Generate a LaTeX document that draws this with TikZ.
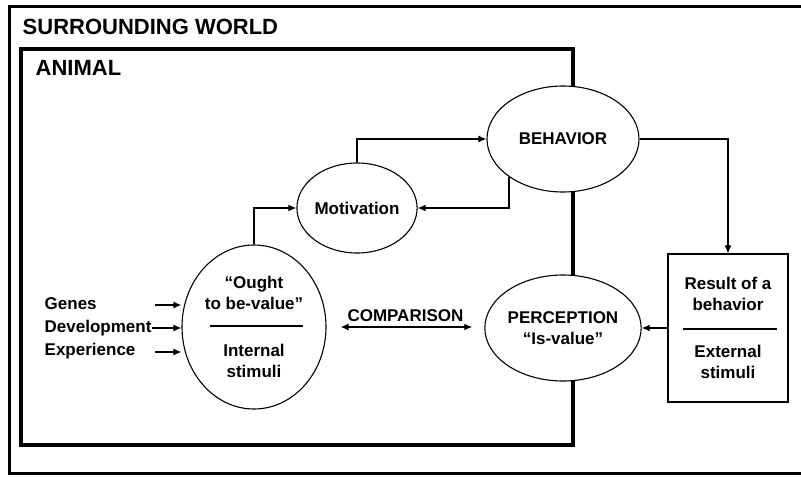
\documentclass[tikz,border=0pt]{standalone}
\usepackage{fontspec}
\setmainfont{Liberation Sans}
\usetikzlibrary{arrows.meta,positioning,shapes.geometric}
\tikzstyle{oval}=[draw, ellipse, fill=white, inner sep=0pt, line width=1.1pt, align=center]
\tikzstyle{resbox}=[draw, rectangle, fill=white, inner sep=0pt, line width=1.1pt]
\tikzstyle{lbl}=[inner sep=0pt, align=center]
\tikzstyle{head}=[inner sep=0pt, anchor=west, font=\bfseries\fontsize{22}{26}\selectfont]
\tikzstyle{frame}=[draw, line width=3pt]

\begin{document}
\begin{tikzpicture}[x=1pt,y=-1pt,>={Latex[length=8pt,width=7pt]},line width=1.4pt,font=\bfseries\fontsize{17}{21}\selectfont]
    \useasboundingbox (0,0) rectangle (801,477);
    % frames
    \draw[frame] (9,6) rectangle (812,473);
    \draw[frame, line width=3.8pt] (21,49) rectangle (573,445);
    \node[head] (world) at (22,27) {SURROUNDING WORLD};
    \node[head] (animal) at (35,68) {ANIMAL};
    % ovals and box
    \node[oval, minimum width=152pt, minimum height=106pt] (behav) at (563,139) {BEHAVIOR};
    \node[oval, minimum width=120pt, minimum height=90pt] (motiv) at (357,208) {Motivation};
    \node[oval, minimum width=144pt, minimum height=164pt] (ought) at (254,327) {};
    \node[oval, minimum width=153pt, minimum height=106pt] (percep) at (563,328) {PERCEPTION\\“Is-value”};
    \node[resbox, minimum width=120pt, minimum height=148pt] (result) at (728,328) {};
    % texts inside
    \node[lbl] (oughtval) at (254,293) {“Ought\\to be-value”};
    \node[lbl] (oughtint) at (254,361) {Internal\\stimuli};
    \draw (210,326) -- (303,326);
    \node[lbl] (resbeh) at (728,294) {Result of a\\behavior};
    \node[lbl] (resext) at (728,362) {External\\stimuli};
    \draw (683,329) -- (777,329);
    % inputs
    \node[lbl, anchor=west] (dev) at (44,328) {Development};
    \node[lbl, anchor=west] (gen) at (44,304) {Genes};
    \node[lbl, anchor=west] (exp) at (44,351) {Experience};
    \coordinate (gentail) at (155,305);
    \coordinate (exptail) at (155,352);
    \draw[->] (gentail) -- (gentail -| ought.west);
    \draw[->] (dev.east) -- (dev.east -| ought.west);
    \draw[->] (exptail) -- (exptail -| ought.west);
    % connectors
    \draw[->] (ought.north) |- (motiv.west);
    \draw[->] (motiv.north) |- (behav.west);
    \draw[->] (behav.south west) |- (motiv.east);
    \draw[->] (behav.east) -| (result.north);
    \draw[->] (result.west) -- (percep.east);
    \draw[<->, shorten <=14pt, shorten >=12pt] (ought.east) -- node[lbl, above=5pt] (comp) {COMPARISON} (ought.east -| percep.west);
\end{tikzpicture}
\end{document}
